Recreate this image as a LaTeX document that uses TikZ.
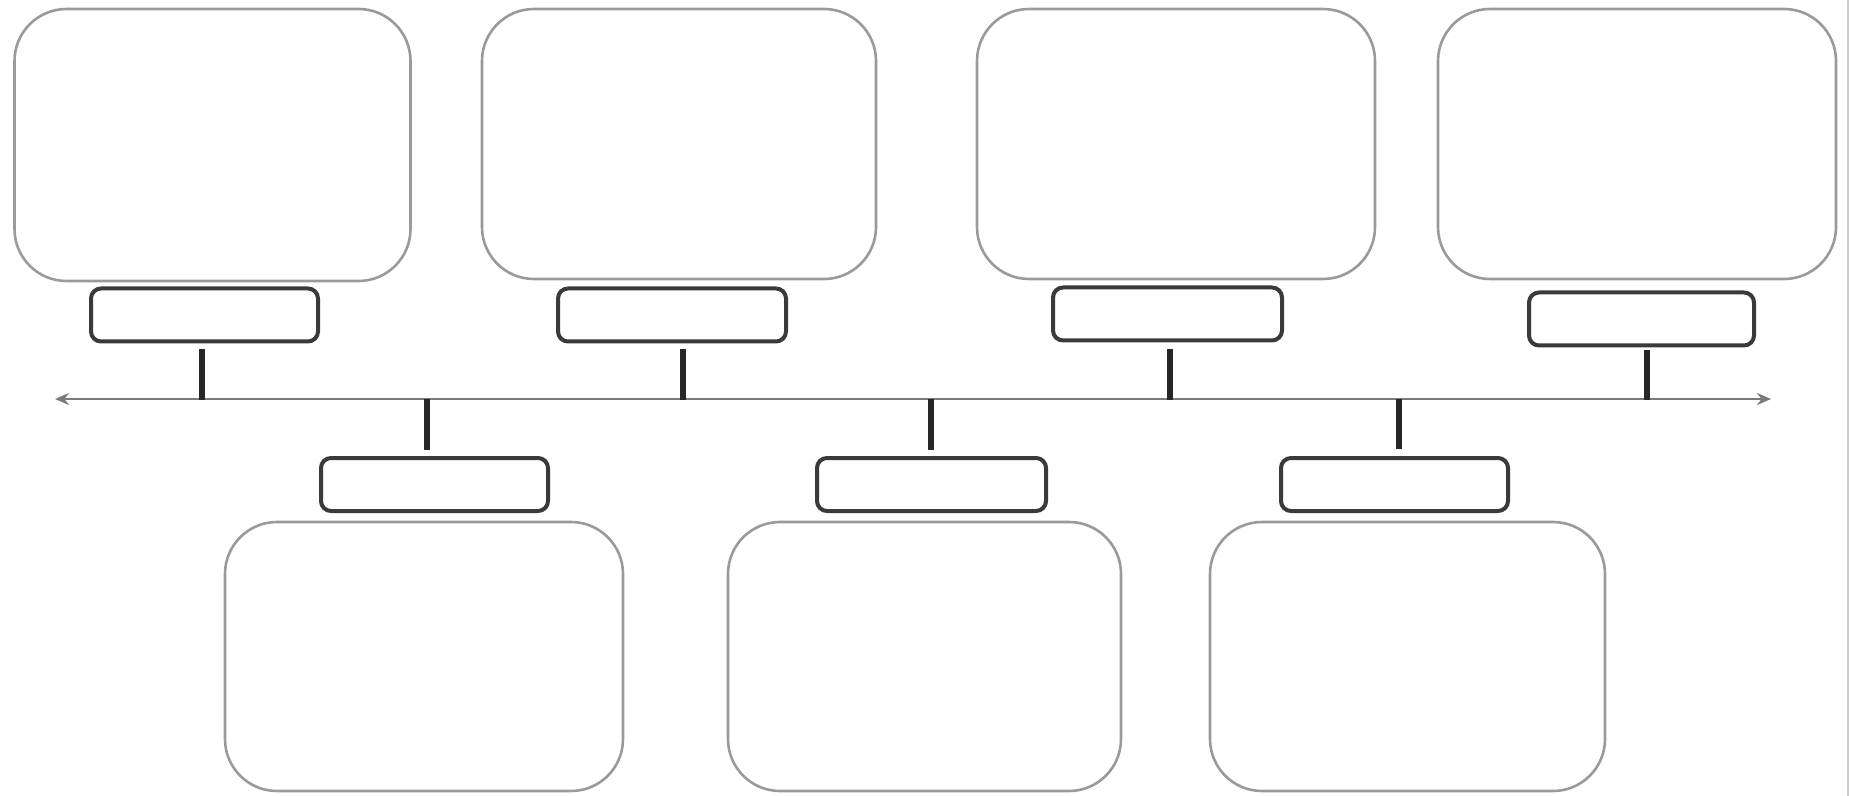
\documentclass[tikz,border=0pt]{standalone}
\usetikzlibrary{arrows.meta}
\definecolor{bigline}{HTML}{9A9A9A}
\definecolor{smallline}{HTML}{3A3A3A}
\definecolor{tickcol}{HTML}{262626}
\definecolor{axiscol}{HTML}{7A7A7A}
\begin{document}
\begin{tikzpicture}[x=0.5pt,y=-0.5pt,
  bigbox/.style={draw=bigline,line width=1.3pt,rounded corners=26pt,inner sep=0pt,fill=white},
  smallbox/.style={draw=smallline,line width=2pt,rounded corners=5pt,inner sep=0pt,fill=white,minimum height=26.5pt},
  tickline/.style={draw=tickcol,line width=2.8pt},
  axisline/.style={draw=axiscol,line width=1.4pt,{Stealth[length=7pt,width=6pt]}-{Stealth[length=7pt,width=6pt]}}]
\useasboundingbox (0,0) rectangle (1851,796);
\fill[white] (0,0) rectangle (1851,796);
\draw[bigline!50,line width=0.8pt] (1848,0) -- (1848,796);
% top big boxes
\node[bigbox,minimum width=198pt,minimum height=136pt] (b1) at (212.5,145) {};
\node[bigbox,minimum width=197pt,minimum height=135pt] (b2) at (679,144) {};
\node[bigbox,minimum width=199pt,minimum height=135pt] (b3) at (1176,144) {};
\node[bigbox,minimum width=199pt,minimum height=135pt] (b4) at (1637,144) {};
% top small boxes
\node[smallbox,minimum width=113.5pt] (s1) at (204.5,315) {};
\node[smallbox,minimum width=114pt] (s2) at (672,315) {};
\node[smallbox,minimum width=114.5pt] (s3) at (1167.5,314) {};
\node[smallbox,minimum width=112.5pt] (s4) at (1641.5,319) {};
% bottom small boxes
\node[smallbox,minimum width=113.5pt] (s5) at (434.5,484.5) {};
\node[smallbox,minimum width=114.5pt] (s6) at (931.5,484.5) {};
\node[smallbox,minimum width=113.5pt] (s7) at (1394.5,484.5) {};
% bottom big boxes
\node[bigbox,minimum width=199pt,minimum height=134.5pt] (b5) at (424,656.5) {};
\node[bigbox,minimum width=196.5pt,minimum height=134.5pt] (b6) at (924.5,656.5) {};
\node[bigbox,minimum width=197.5pt,minimum height=134.5pt] (b7) at (1407.5,656.5) {};
% axis
\coordinate (axL) at (55,399);
\coordinate (axR) at (1771,399);
\draw[axisline] (axL) -- (axR);
% tick coordinates
\coordinate (t1a) at (202,349); \coordinate (t1b) at (202,400);
\coordinate (t2a) at (683,349); \coordinate (t2b) at (683,400);
\coordinate (t3a) at (1170,349); \coordinate (t3b) at (1170,400);
\coordinate (t4a) at (1647,350); \coordinate (t4b) at (1647,400);
\coordinate (t5a) at (427,399); \coordinate (t5b) at (427,450);
\coordinate (t6a) at (931,399); \coordinate (t6b) at (931,450);
\coordinate (t7a) at (1399,399); \coordinate (t7b) at (1399,449);
\foreach \i in {1,...,7} {\draw[tickline] (t\i a) -- (t\i b);}
\end{tikzpicture}
\end{document}
